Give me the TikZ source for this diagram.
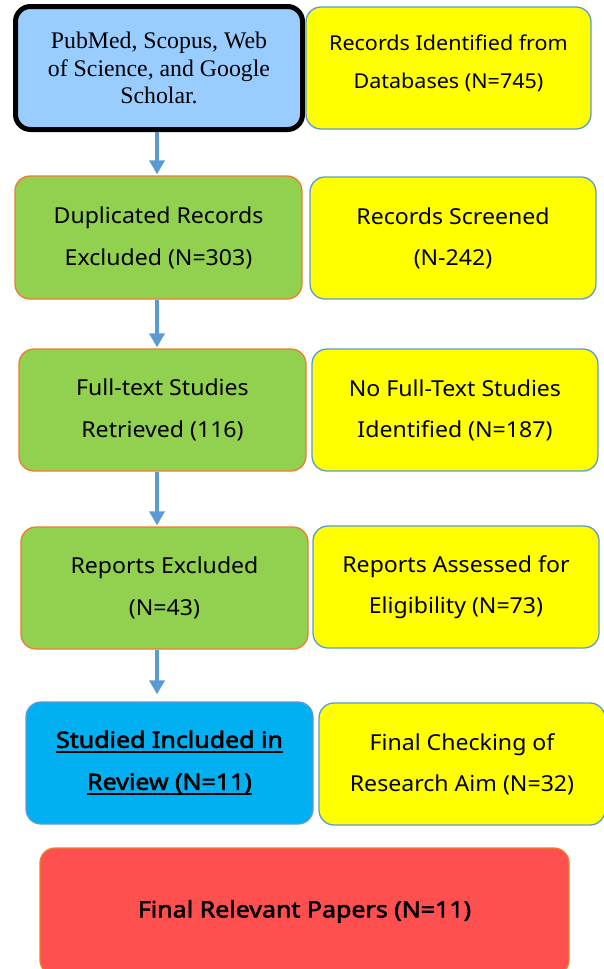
\documentclass[tikz,border=0pt]{standalone}
\usepackage{fontspec}
\setmainfont{Liberation Serif}
\newfontfamily\ns{Noto Sans}[FakeStretch=1.05]
\newfontfamily\nsb{Noto Sans}[FakeBold=2.5,FakeStretch=1.11]
\newcommand\myul[1]{\setbox0\hbox{#1}\leavevmode\rlap{\rule[-5.5pt]{\wd0}{2pt}}\box0}
\usetikzlibrary{arrows.meta}
\definecolor{lblue}{HTML}{99CCFF}
\definecolor{yel}{HTML}{FFFF00}
\definecolor{bordblue}{HTML}{5B9BD5}
\definecolor{grn}{HTML}{92D050}
\definecolor{orng}{HTML}{ED7D31}
\definecolor{cyanb}{HTML}{00B0F0}
\definecolor{redb}{HTML}{FF5050}
\tikzset{
  box/.style={rectangle, rounded corners=15pt, inner sep=0pt, minimum width=287pt, minimum height=122pt, align=center, text=black},
  srcbox/.style={box, fill=lblue, draw=black, line width=5pt, font=\fontsize{23.8}{27.5}\selectfont, minimum height=123pt},
  ybox/.style={box, fill=yel, draw=bordblue, line width=1.3pt, minimum width=286pt, font=\ns\fontsize{22}{41}\selectfont},
  gbox/.style={box, fill=grn, draw=orng, line width=1.3pt, font=\ns\fontsize{22}{42}\selectfont},
  cbox/.style={box, fill=cyanb, draw=bordblue, line width=1.3pt, font=\nsb\fontsize{22.5}{42}\selectfont},
  rbox/.style={box, fill=redb, draw=orng, line width=1.3pt, minimum width=529pt, minimum height=127pt, font=\nsb\fontsize{22.5}{42}\selectfont},
  arr/.style={draw=bordblue, line width=3.5pt, -{Triangle[length=14pt,width=15pt]}, shorten >=1pt}
}
\begin{document}
\begin{tikzpicture}[x=1pt,y=-1pt]
\useasboundingbox (0,0) rectangle (603,969);
\node[srcbox] (b1) at (159,68) {PubMed, Scopus, Web\\of Science, and Google\\Scholar.};
\node[ybox, font=\ns\fontsize{20.5}{38}\selectfont, minimum width=285pt] (y1) at (448.5,68) {Records Identified from\\Databases (N=745)\\[-26pt]\mbox{}};
\node[gbox, minimum height=123pt] (g1) at (158.5,237.5) {Duplicated Records\\Excluded (N=303)};
\node[ybox] (y2) at (453,238) {Records Screened\\(N-242)};
\node[gbox] (g2) at (162.5,410) {Full-text Studies\\Retrieved (116)};
\node[ybox] (y3) at (455,410) {No Full-Text Studies\\Identified (N=187)};
\node[gbox] (g3) at (164.5,588) {Reports Excluded\\(N=43)};
\node[ybox] (y4) at (456,587) {Reports Assessed for\\Eligibility (N=73)};
\node[cbox] (b2) at (169.5,763) {\myul{Studied Included in}\\\myul{Review (N=11)}};
\node[ybox] (y5) at (462,764) {Final Checking of\\Research Aim (N=32)};
\node[rbox] (r) at (304.5,911.5) {Final Relevant Papers (N=11)};
\coordinate (ax) at (157,0);
\draw[arr] (b1.south -| ax) -- (g1.north -| ax);
\draw[arr] (g1.south -| ax) -- (g2.north -| ax);
\draw[arr] (g2.south -| ax) -- (g3.north -| ax);
\draw[arr] (g3.south -| ax) -- ([yshift=6pt]b2.north -| ax);
\end{tikzpicture}
\end{document}
